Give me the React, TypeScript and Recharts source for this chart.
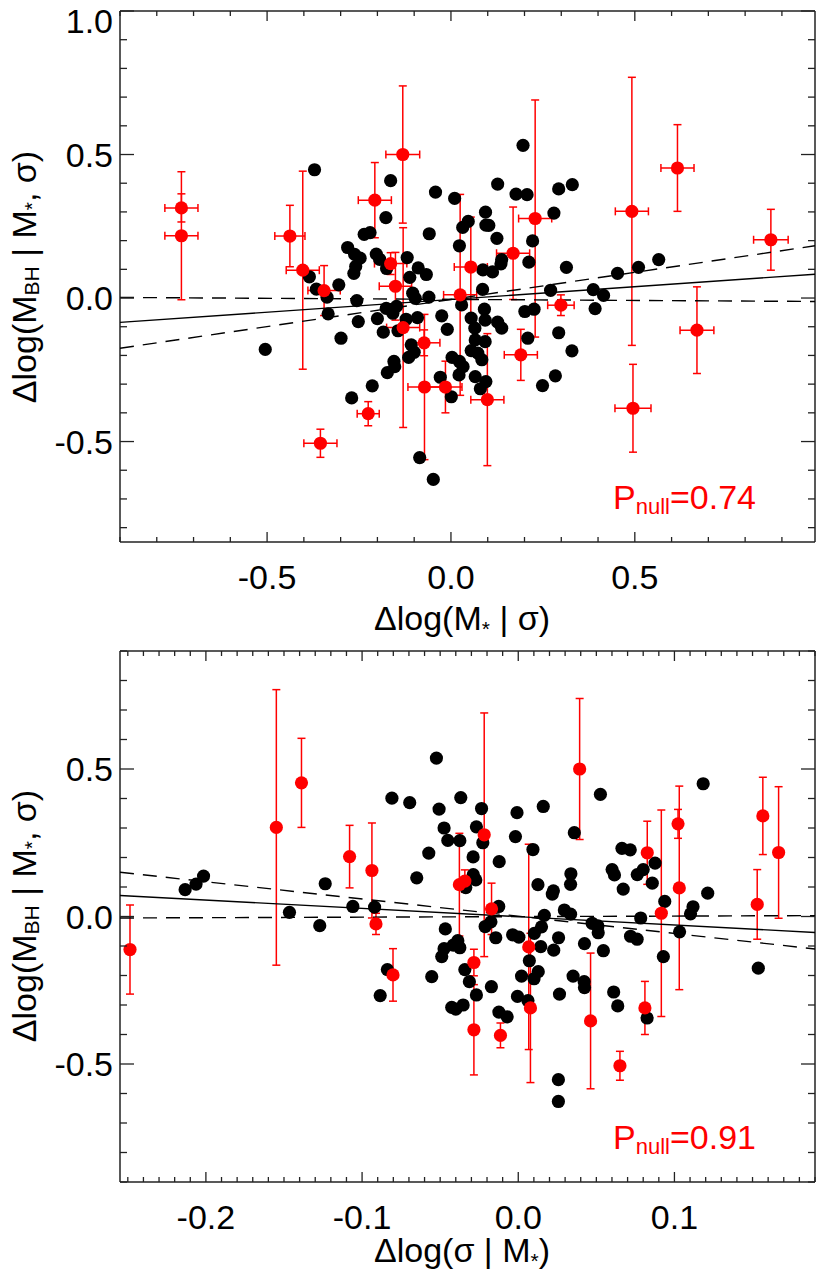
import React from "react";
import { ScatterChart, Scatter, XAxis, YAxis, ErrorBar } from "recharts";

// ---- data ----

// black sample, upper panel: x = Δlog(M* | σ), y = Δlog(MBH | M*, σ)
const blackXTop = [
  -0.371, -0.164, 0.196, 0.127, 0.177, 0.207, 0.293, 0.33, -0.042, 0.01,
  -0.177, -0.236, -0.22, -0.059, 0.032, 0.047, 0.094, 0.095, 0.103, 0.28,
  0.125, 0.023, 0.222, -0.281, -0.262, -0.247, -0.203, -0.194, -0.119, -0.259,
  -0.264, -0.089, -0.067, -0.112, -0.385, -0.366, -0.337, -0.334, -0.305, -0.256,
  -0.252, -0.299, -0.2, -0.176, -0.148, -0.158, -0.184, -0.144, -0.122, -0.091,
  -0.104, -0.097, -0.06, -0.108, -0.1, -0.115, -0.155, -0.153, -0.173, -0.214,
  -0.27, -0.085, -0.048, -0.025, -0.01, 0.003, 0.023, 0.033, 0.022, -0.029,
  0.001, 0.029, 0.055, 0.065, 0.093, 0.091, 0.086, 0.066, 0.093, 0.055,
  0.073, 0.084, 0.066, 0.095, 0.08, 0.087, 0.113, 0.136, 0.138, 0.212,
  0.127, 0.138, 0.201, 0.226, 0.209, 0.293, 0.329, 0.284, 0.249, 0.271,
  0.314, 0.387, 0.415, 0.392, 0.453, 0.51, 0.565, -0.505, -0.175,
];
const blackYTop = [
  0.447, 0.409, 0.532, 0.397, 0.362, 0.36, 0.38, 0.395, 0.369, 0.347,
  0.28, 0.222, 0.228, 0.224, 0.246, 0.267, 0.299, 0.254, 0.253, 0.296,
  0.208, 0.182, 0.199, 0.176, 0.152, 0.139, 0.153, 0.135, 0.141, 0.11,
  0.086, 0.105, 0.082, 0.072, 0.074, 0.031, 0.003, -0.055, 0.046, -0.009,
  -0.082, -0.14, -0.072, -0.036, -0.029, -0.053, -0.119, -0.114, -0.074, -0.068,
  0.017, -0.001, 0.003, -0.163, -0.189, -0.207, -0.221, -0.239, -0.26, -0.306,
  -0.348, -0.556, -0.632, -0.062, -0.109, -0.207, -0.221, -0.239, -0.268, -0.276,
  -0.344, -0.024, -0.07, -0.105, -0.077, -0.039, 0.03, -0.146, -0.152, -0.183,
  -0.192, -0.215, -0.274, -0.291, -0.316, 0.098, 0.091, 0.119, 0.134, 0.125,
  -0.084, -0.105, -0.047, -0.039, -0.14, -0.121, -0.184, -0.271, -0.305, 0.027,
  0.107, 0.029, 0.009, -0.037, 0.086, 0.107, 0.134, -0.179, 0.103,
];

// black sample, lower panel: x = Δlog(σ | M*)
const blackXBottom = [
  -0.0524, -0.0809, -0.0695, -0.0507, -0.0368, -0.0235, -0.0475, -0.0451, -0.0374, -0.0268,
  -0.0227, -0.0008, 0.016, -0.0018, 0.0526, 0.0359, 0.1184, 0.0094, -0.0573, -0.0289,
  -0.0122, -0.065, -0.0288, -0.0272, -0.0336, 0.0126, 0.0225, 0.0218, 0.0337, 0.0335,
  0.0664, 0.0717, 0.0601, 0.0616, 0.0762, 0.08, 0.0876, 0.0672, 0.0858, 0.0938,
  0.1213, 0.1119, 0.1103, -0.0125, 0.0167, 0.0295, 0.0335, 0.0784, 0.0473, 0.051,
  0.0512, 0.1033, -0.0467, -0.0212, -0.0175, -0.0144, -0.0036, 0.0004, 0.0149, 0.0103,
  0.0258, 0.0424, 0.0545, 0.0719, 0.0761, 0.0929, 0.0144, 0.0227, -0.0475, -0.049,
  -0.0416, -0.0374, -0.0387, -0.0342, -0.0838, -0.0554, -0.0313, -0.0268, -0.0172, -0.0005,
  0.0021, 0.0071, 0.0128, 0.0101, 0.0062, 0.0264, 0.0351, 0.0422, 0.0424, 0.0611,
  0.0637, 0.0825, -0.0426, -0.04, -0.0353, -0.0124, -0.0071, -0.0884, 0.0257, 0.0257,
  0.1537, -0.2133, -0.2063, -0.2015, -0.1236, -0.1059, -0.092, -0.1465, -0.1271,
];
const blackYBottom = [
  0.537, 0.401, 0.386, 0.364, 0.403, 0.366, 0.3, 0.258, 0.257, 0.304,
  0.25, 0.352, 0.373, 0.271, 0.414, 0.284, 0.45, 0.227, 0.215, 0.202,
  0.186, 0.131, 0.142, 0.124, 0.098, 0.108, 0.087, 0.076, 0.145, 0.109,
  0.231, 0.226, 0.159, 0.141, 0.142, 0.159, 0.181, 0.093, 0.113, 0.051,
  0.079, 0.033, 0.009, 0.034, 0.004, 0.022, 0.008, -0.005, -0.023, -0.032,
  -0.055, -0.052, -0.042, -0.034, -0.018, -0.072, -0.062, -0.07, -0.035, -0.057,
  -0.072, -0.092, -0.116, -0.067, -0.077, -0.136, -0.102, -0.114, -0.109, -0.136,
  -0.097, -0.106, -0.082, -0.18, -0.18, -0.204, -0.221, -0.266, -0.238, -0.271,
  -0.202, -0.15, -0.187, -0.211, -0.285, -0.263, -0.202, -0.221, -0.241, -0.256,
  -0.303, -0.344, -0.308, -0.314, -0.3, -0.324, -0.34, -0.268, -0.553, -0.627,
  -0.175, 0.091, 0.11, 0.137, 0.111, 0.034, 0.032, 0.014, -0.031,
];

// red sample (same objects in both panels, same y)
const redY = [
  0.314, 0.217, 0.216, 0.097, 0.026, 0.341, 0.5, 0.12, 0.041, -0.103,
  -0.156, -0.31, -0.31, 0.011, 0.108, -0.354, 0.156, -0.198, 0.277, -0.025,
  -0.403, -0.506, 0.302, 0.453, 0.203, -0.112, -0.384,
];
const redYErr = [
  0.049, 0.223, 0.107, 0.345, 0.087, 0.131, 0.239, 0.038, 0.118, 0.348,
  0.045, 0.253, 0.09, 0.35, 0.174, 0.23, 0.161, 0.089, 0.413, 0.036,
  0.042, 0.049, 0.467, 0.151, 0.106, 0.151, 0.153,
];
const redXTop = [
  -0.733, -0.733, -0.438, -0.403, -0.345, -0.207, -0.131, -0.164, -0.151, -0.13,
  -0.073, -0.072, -0.015, 0.025, 0.054, 0.099, 0.169, 0.19, 0.229, 0.299,
  -0.225, -0.355, 0.492, 0.616, 0.87, 0.669, 0.495,
];
const redXErrTop = [
  0.045, 0.045, 0.041, 0.045, 0.044, 0.045, 0.046, 0.044, 0.044, 0.045,
  0.043, 0.045, 0.045, 0.045, 0.045, 0.045, 0.045, 0.045, 0.045, 0.036,
  0.03, 0.045, 0.045, 0.045, 0.047, 0.046, 0.049,
];
const redXBottom = [
  0.1023, 0.1667, 0.0826, 0.1031, -0.0171, 0.1566, 0.0393, -0.0342, 0.153, 0.0067,
  -0.0284, 0.0078, 0.0811, 0.0916, -0.0377, 0.0463, -0.0937, -0.0802, -0.0218, -0.0911,
  -0.0114, 0.0651, -0.1549, -0.1388, -0.108, -0.2486, -0.0284,
];

// fit lines: end points at the frame edges
const fitXTop = [-0.9, 0.99];
const fitSolidTop = [-0.085, 0.083];
const fitDashATop = [-0.175, 0.182];
const fitDashBTop = [0.002, -0.012];
const fitXBottom = [-0.255, 0.19];
const fitSolidBottom = [0.071, -0.054];
const fitDashABottom = [0.15, -0.11];
const fitDashBBottom = [-0.005, 0.003];

// axes
const xDomainTop = [-0.9, 0.99];
const yDomainTop = [-0.85, 1.0];
const xDomainBottom = [-0.255, 0.19];
const yDomainBottom = [-0.9, 0.9];
const xMajorTop = [-0.5, 0, 0.5];
const xLabelsTop = ["-0.5", "0.0", "0.5"];
const yMajorTop = [-0.5, 0, 0.5, 1.0];
const yLabelsTop = ["-0.5", "0.0", "0.5", "1.0"];
const xMajorBottom = [-0.2, -0.1, 0, 0.1];
const xLabelsBottom = ["-0.2", "-0.1", "0.0", "0.1"];
const yMajorBottom = [-0.5, 0, 0.5];
const yLabelsBottom = ["-0.5", "0.0", "0.5"];

const pNullTop = "0.74";
const pNullBottom = "0.91";

const FONT = '"Liberation Sans", Arial, Helvetica, sans-serif';
const AXIS = "#222";
const RED = "#ff0000";

// minor tick positions between lo and hi
function minorTicks(lo: number, hi: number, step: number) {
  const out: number[] = [];
  const first = Math.ceil(lo / step - 1e-6);
  const last = Math.floor(hi / step + 1e-6);
  for (let i = first; i <= last; i++) out.push(Number((i * step).toFixed(4)));
  return out;
}

function labelFor(v: number, majors: number[], labels: string[]) {
  const i = majors.findIndex((m) => Math.abs(m - v) < 1e-6);
  return i >= 0 ? labels[i] : null;
}

const makeTick =
  (side: "bottom" | "top" | "left" | "right", majors: number[], labels: string[], majorLen: number) =>
  (props: any) => {
    const { x, y, payload } = props;
    const label = labelFor(payload.value, majors, labels);
    const len = label !== null ? majorLen : majorLen / 2;
    let x2 = x;
    let y2 = y;
    if (side === "bottom") y2 = y - len;
    if (side === "top") y2 = y + len;
    if (side === "left") x2 = x + len;
    if (side === "right") x2 = x - len;
    return (
      <g>
        <line x1={x} y1={y} x2={x2} y2={y2} stroke={AXIS} strokeWidth={1.3} />
        {label !== null && side === "bottom" && (
          <text x={x} y={y + 47} textAnchor="middle" fontSize={34} fontFamily={FONT} fill="#000">
            {label}
          </text>
        )}
        {label !== null && side === "left" && (
          // IDL keeps the topmost label inside the page
          <text x={x - 7} y={Math.max(y + 12, 33)} textAnchor="end" fontSize={34} fontFamily={FONT} fill="#000">
            {label}
          </text>
        )}
      </g>
    );
  };

const dot = (r: number, fill: string) => (props: any) =>
  <circle cx={props.cx} cy={props.cy} r={r} fill={fill} />;
const noDot = () => <g />;

interface PanelProps {
  top: number;
  xDomain: number[];
  yDomain: number[];
  xMinor: number;
  xMajor: number[];
  xLabels: string[];
  yMajor: number[];
  yLabels: string[];
  black: { x: number; y: number }[];
  red: { x: number; y: number; ey: number; ex?: number }[];
  fits: { x: number; y: number }[][];
  withXErr: boolean;
}

function Panel(p: PanelProps) {
  const xt = minorTicks(p.xDomain[0], p.xDomain[1], p.xMinor);
  const yt = minorTicks(p.yDomain[0], p.yDomain[1], 0.1);
  const axisLine = { stroke: AXIS, strokeWidth: 1.5 };
  return (
    <div style={{ position: "absolute", left: 0, top: p.top }}>
      <ScatterChart width={830} height={637} margin={{ top: 10, right: 14, bottom: 0, left: 0 }}>
        <XAxis
          xAxisId="b" type="number" dataKey="x" domain={p.xDomain} allowDataOverflow
          ticks={xt} interval={0} tickSize={0} tickMargin={0} tickLine={false} height={95}
          axisLine={axisLine} tick={makeTick("bottom", p.xMajor, p.xLabels, 10)}
        />
        <XAxis
          xAxisId="t" orientation="top" type="number" dataKey="x" domain={p.xDomain} allowDataOverflow
          ticks={xt} interval={0} tickSize={0} tickMargin={0} tickLine={false} height={1}
          axisLine={axisLine} tick={makeTick("top", p.xMajor, p.xLabels, 10)}
        />
        <YAxis
          yAxisId="l" type="number" dataKey="y" domain={p.yDomain} allowDataOverflow
          ticks={yt} interval={0} tickSize={0} tickMargin={0} tickLine={false} width={120}
          axisLine={axisLine} tick={makeTick("left", p.yMajor, p.yLabels, 14)}
        />
        <YAxis
          yAxisId="r" orientation="right" type="number" dataKey="y" domain={p.yDomain} allowDataOverflow
          ticks={yt} interval={0} tickSize={0} tickMargin={0} tickLine={false} width={1}
          axisLine={axisLine} tick={makeTick("right", p.yMajor, p.yLabels, 14)}
        />
        <Scatter
          data={p.black} xAxisId="b" yAxisId="l" shape={dot(6.6, "#000")} isAnimationActive={false}
        />
        {p.fits.map((f, i) => (
          <Scatter
            key={i} data={f} xAxisId="t" yAxisId="r" shape={noDot} lineType="joint"
            line={{ stroke: "#000", strokeWidth: 1.4, strokeDasharray: i === 0 ? undefined : "14 9" }}
            isAnimationActive={false}
          />
        ))}
        <Scatter data={p.red} xAxisId="b" yAxisId="l" shape={dot(6.6, RED)} isAnimationActive={false}>
          <ErrorBar dataKey="ey" direction="y" width={4} stroke={RED} strokeWidth={1.5} isAnimationActive={false} />
          {p.withXErr && (
            <ErrorBar dataKey="ex" direction="x" width={4} stroke={RED} strokeWidth={1.5} isAnimationActive={false} />
          )}
        </Scatter>
      </ScatterChart>
    </div>
  );
}

const line = (xs: number[], ys: number[]) => xs.map((x, i) => ({ x, y: ys[i] }));

export default function App() {
  const blackTop = blackXTop.map((x, i) => ({ x, y: blackYTop[i] }));
  const blackBottom = blackXBottom.map((x, i) => ({ x, y: blackYBottom[i] }));
  const redTop = redXTop.map((x, i) => ({ x, y: redY[i], ey: redYErr[i], ex: redXErrTop[i] }));
  const redBottom = redXBottom.map((x, i) => ({ x, y: redY[i], ey: redYErr[i] }));

  const yTitle = (cy: number) => (
    <text
      transform={`translate(24,${cy}) rotate(-90)`} textAnchor="middle" fontSize={34}
      fontFamily={FONT} fill="#000" dominantBaseline="central"
    >
      Δlog(M<tspan fontSize={21} dy={7}>BH</tspan>
      <tspan dy={-7}> | M</tspan>
      <tspan fontSize={21} dy={7}>*</tspan>
      <tspan dy={-7}>, σ)</tspan>
    </text>
  );
  const pNull = (y: number, v: string) => (
    <text x={613} y={y} fontSize={34} fontFamily={FONT} fill={RED}>
      P<tspan fontSize={22} dy={5}>null</tspan>
      <tspan dy={-5}>={v}</tspan>
    </text>
  );

  return (
    <div style={{ position: "relative", width: 830, height: 1277, margin: -8, background: "#fff" }}>
      <Panel
        top={0} xDomain={xDomainTop} yDomain={yDomainTop} xMinor={0.1}
        xMajor={xMajorTop} xLabels={xLabelsTop} yMajor={yMajorTop} yLabels={yLabelsTop}
        black={blackTop} red={redTop} withXErr
        fits={[line(fitXTop, fitSolidTop), line(fitXTop, fitDashATop), line(fitXTop, fitDashBTop)]}
      />
      <Panel
        top={640} xDomain={xDomainBottom} yDomain={yDomainBottom} xMinor={0.01}
        xMajor={xMajorBottom} xLabels={xLabelsBottom} yMajor={yMajorBottom} yLabels={yLabelsBottom}
        black={blackBottom} red={redBottom} withXErr={false}
        fits={[line(fitXBottom, fitSolidBottom), line(fitXBottom, fitDashABottom), line(fitXBottom, fitDashBBottom)]}
      />
      <svg
        width={830} height={1277}
        style={{ position: "absolute", left: 0, top: 0, pointerEvents: "none" }}
      >
        <text x={462} y={630} textAnchor="middle" fontSize={34} fontFamily={FONT} fill="#000">
          Δlog(M<tspan fontSize={21} dy={6}>*</tspan>
          <tspan dy={-6}> | σ)</tspan>
        </text>
        <text x={462} y={1262} textAnchor="middle" fontSize={34} fontFamily={FONT} fill="#000">
          Δlog(σ | M<tspan fontSize={21} dy={6}>*</tspan>
          <tspan dy={-6}>)</tspan>
        </text>
        {yTitle(277)}
        {yTitle(916)}
        {pNull(509, pNullTop)}
        {pNull(1149, pNullBottom)}
      </svg>
    </div>
  );
}
